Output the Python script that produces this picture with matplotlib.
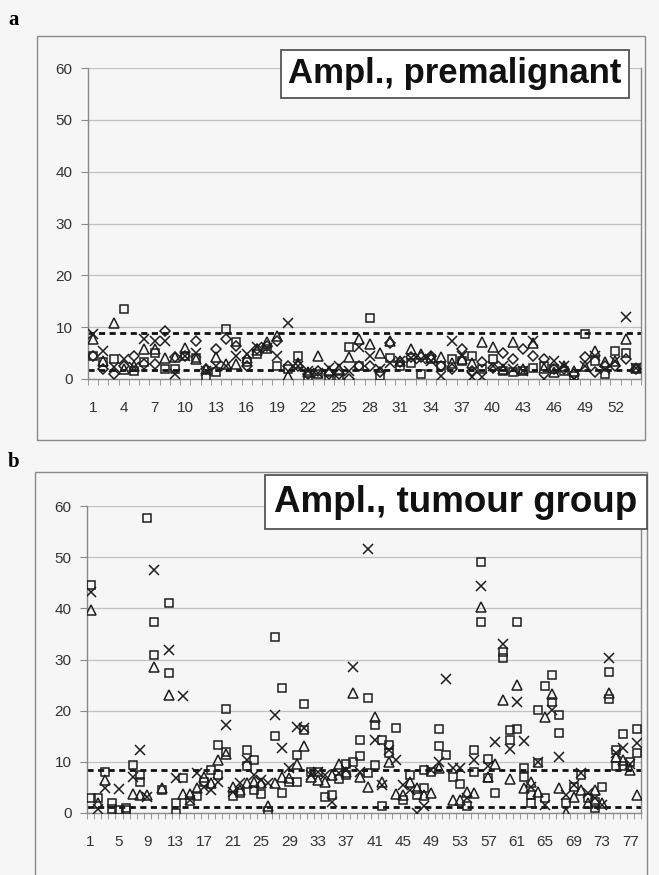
import numpy as np
import matplotlib.pyplot as plt
from matplotlib.patches import Rectangle

nan = np.nan

# ---------- panel a: premalignant (54 cases, 4 series) ----------
a_sq = [4.5, 3.2, 3.8, 13.5, 1.6, 3.2, 5.1, 1.9, 2.0, 4.5,
        4.0, 0.4, 1.3, 9.6, 7.1, 3.2, 4.8, 5.8, 2.6, 2.0,
        4.5, 0.0, 1.0, 0.0, 0.0, 6.1, 2.5, 11.7, 0.6, 4.0,
        2.5, 3.0, 1.0, 3.8, 2.6, 3.8, 3.5, 4.5, 2.0, 3.8,
        1.5, 1.3, 1.5, 2.2, 2.5, 2.0, 1.5, 0.5, 8.7, 3.5,
        1.0, 5.4, 5.1, 2.2]
a_tri = [7.7, 3.5, 10.8, 1.9, 2.6, 5.8, 5.8, 4.0, 4.2, 6.0,
         3.8, 1.9, 4.2, 2.9, 2.9, 4.0, 5.5, 7.1, 8.3, 0.6,
         3.0, 1.3, 4.5, 1.5, 1.9, 4.2, 7.7, 6.7, 5.1, 7.4,
         3.5, 5.8, 4.8, 4.2, 4.2, 3.0, 3.8, 3.0, 7.1, 6.1,
         2.0, 7.1, 2.0, 7.0, 2.2, 1.3, 2.6, 1.5, 2.5, 5.4,
         3.2, 3.5, 7.7, 2.2]
a_x = [8.7, 5.4, 2.3, 3.8, 2.3, 7.7, 7.4, 7.4, 1.0, 4.4,
       5.1, 1.6, 2.5, 2.6, 4.5, 4.8, 6.1, 6.0, 4.5, 10.9,
       2.5, 1.6, 1.2, 2.2, 2.6, 1.6, 6.1, 4.5, 2.0, 3.0,
       3.5, 4.0, 3.8, 3.5, 0.6, 7.4, 4.5, 0.4, 0.4, 2.5,
       2.5, 2.0, 1.5, 7.4, 0.0, 3.5, 2.6, 0.0, 2.6, 4.5,
       2.0, 3.5, 12.0, 2.2]
a_dia = [4.5, 1.9, 1.0, 2.6, 4.5, 2.9, 2.9, 9.3, 4.2, 4.5,
         7.4, 1.9, 5.8, 7.7, 6.4, 2.6, 5.8, 6.4, 7.4, 2.6,
         2.6, 1.0, 1.6, 1.0, 1.0, 0.0, 2.6, 2.6, 1.3, 7.0,
         3.2, 4.2, 4.2, 4.5, 2.6, 1.9, 5.8, 1.6, 3.2, 2.2,
         5.1, 3.8, 5.8, 4.5, 3.8, 1.9, 2.0, 1.0, 4.2, 1.3,
         2.6, 2.6, 3.8, 2.0]
a_limits = [8.8, 1.7]
a_xticks = list(range(1, 53, 3))

# ---------- panel b: tumour group (78 cases, 4 series) ----------
b_sq = [44.5, 2.9, 8.1, 1.9, 0.5, 0.5, 9.4, 7.4, 57.7, 37.4,
        4.5, 41.0, 0.0, 6.8, 2.3, 3.3, 6.0, 8.4, 13.3, 20.4,
        3.3, 4.0, 12.4, 10.4, 3.8, 0.3, 34.4, 24.4, 6.1, 11.3,
        21.4, 8.0, 8.0, 3.2, 3.5, 6.6, 9.6, 10.0, 14.3, 22.4,
        17.2, 14.3, 13.3, 16.6, 2.6, 7.4, 3.5, 8.4, 8.0, 16.5,
        11.3, 7.1, 5.7, 1.3, 12.3, 49.1, 10.5, 4.0, 31.5, 16.3,
        37.4, 8.7, 3.5, 20.2, 24.8, 26.9, 19.1, 1.9, 5.0, 7.4,
        3.0, 2.2, 5.0, 27.6, 12.3, 15.5, 10.0, 16.5]
b_sq2 = [2.9, nan, nan, 0.8, nan, 1.0, nan, 6.1, nan, 30.9,
         nan, 27.4, 2.0, nan, nan, nan, nan, nan, 7.4, 12.0,
         nan, nan, 9.1, 4.5, nan, nan, 15.0, 3.9, nan, 6.1,
         16.3, nan, nan, nan, nan, nan, 7.4, nan, 11.1, 7.8,
         9.4, 1.3, 11.7, nan, nan, nan, nan, 4.8, nan, 13.1,
         nan, nan, nan, nan, 8.1, 37.4, 6.8, nan, 30.2, 14.3,
         16.5, 7.1, 1.9, 9.8, 2.9, 21.7, 15.7, nan, nan, nan,
         nan, 0.9, nan, 22.2, 9.1, 9.1, nan, 11.8]
b_tri = [39.6, 2.0, 6.4, nan, nan, nan, 3.8, 3.5, 3.5, 28.6,
         4.9, 23.0, nan, 3.8, 3.8, 4.9, 7.0, 5.8, 10.4, 11.5,
         5.1, 4.5, 5.8, 6.1, 5.8, 1.3, 5.8, 7.0, 6.8, 9.6,
         13.1, 7.0, 6.5, 6.1, 7.5, 9.6, 8.0, 23.5, 7.0, 5.1,
         18.8, 6.0, 10.0, 3.8, 3.5, 6.1, 4.8, 3.5, 4.0, 8.7,
         nan, 2.6, 2.6, 4.2, 4.0, 40.3, 7.1, 9.6, 22.1, 6.6,
         25.0, 4.8, 6.0, 4.2, 18.8, 23.2, 4.8, 0.0, 3.2, 4.5,
         2.0, 4.5, 2.0, 23.4, 11.0, 10.4, 8.5, 3.5]
b_x = [43.2, 0.8, 4.9, nan, 4.6, nan, 7.1, 12.4, 3.2, 47.5,
       nan, 31.8, 6.8, 22.8, 2.6, 7.8, 5.0, 4.5, 6.1, 17.2,
       4.1, 5.8, 10.4, 7.4, 6.5, 5.8, 19.1, 12.8, 8.8, 16.9,
       16.6, 7.5, 8.0, 7.4, 2.2, 7.8, 8.5, 28.6, 8.1, 51.6,
       14.3, 5.4, 12.4, 10.4, 5.4, 4.5, 0.0, 1.3, 8.5, 10.0,
       26.1, 8.7, 8.7, 2.9, 10.4, 44.3, 9.1, 13.9, 33.1, 12.6,
       21.6, 14.1, 5.1, 10.0, 1.6, 20.1, 10.9, 3.5, 5.4, 7.8,
       4.0, 3.0, 1.5, 30.2, 11.7, 12.8, 9.5, 13.7]
b_limits = [8.5, 1.2]
b_xticks = list(range(1, 78, 4))

titles = ["Ampl., premalignant", "Ampl., tumour group"]
panel_labels = ["a", "b"]

plt.rcParams["font.family"] = ["Liberation Sans", "DejaVu Sans"]

W, H = 659, 875
fig = plt.figure(figsize=(W / 100, H / 100), dpi=100)
fig.patch.set_facecolor("#f6f6f6")


def fx(px):
    return px / W


def fy(py):
    return 1 - py / H


# outer chart frames (pixel coords: left, top, right, bottom)
for (l, t, r, b) in [(37, 36, 645, 440), (35, 472, 647, 890)]:
    fig.add_artist(Rectangle((fx(l), fy(b)), fx(r) - fx(l), fy(t) - fy(b),
                             transform=fig.transFigure, fill=False,
                             ec="#8a8a8a", lw=1.0))

ax_a = fig.add_axes([fx(88), fy(379), fx(641) - fx(88), fy(68) - fy(379)])
ax_b = fig.add_axes([fx(87), fy(813), fx(641) - fx(87), fy(506) - fy(813)])

mk = dict(ls="none", mfc="none", mec="#1e1e1e", mew=1.1)

panels = [
    (ax_a, [(a_sq, "s", 6.3), (a_tri, "^", 6.8), (a_x, "x", 6.8), (a_dia, "D", 5.2)],
     a_limits, a_xticks, len(a_sq)),
    (ax_b, [(b_sq, "s", 6), (b_sq2, "s", 6), (b_tri, "^", 6.5), (b_x, "x", 7)],
     b_limits, b_xticks, len(b_sq)),
]

for ax, series, limits, xt, n in panels:
    ax.set_facecolor("#f6f6f6")
    cats = np.arange(1, n + 1)
    for vals, m, s in series:
        ax.plot(cats, np.array(vals, dtype=float), marker=m, ms=s, **mk, zorder=3)
    for v in limits:
        ax.axhline(v, color="#111111", lw=2.0, ls=(0, (2.2, 1.6)), zorder=2)
    ax.set_xlim(0.5, n + 0.5)
    ax.set_ylim(0, 60)
    ax.set_yticks(range(0, 61, 10))
    ax.set_xticks(xt)
    ax.set_xticks(np.arange(0.5, n + 1), minor=True)
    ax.yaxis.grid(True, color="#c2c2c2", lw=0.9)
    ax.set_axisbelow(True)
    ax.spines["top"].set_visible(False)
    for side in ["left", "bottom", "right"]:
        ax.spines[side].set_color("#8a8a8a")
        ax.spines[side].set_linewidth(1.0)
    ax.tick_params(axis="y", length=5, color="#8a8a8a", labelsize=11,
                   labelcolor="#333333", pad=6)
    ax.tick_params(axis="x", which="major", length=0, labelsize=11,
                   labelcolor="#333333", pad=16)
    ax.tick_params(axis="x", which="minor", length=4, color="#8a8a8a")

# title boxes
fig.text(fx(455), fy(74), titles[0], fontsize=25, fontweight="bold",
         ha="center", va="center", color="#111111",
         bbox=dict(boxstyle="square,pad=0.22", fc="white", ec="#555555", lw=1.3))
fig.text(fx(456), fy(502), titles[1], fontsize=26.5, fontweight="bold",
         ha="center", va="center", color="#111111",
         bbox=dict(boxstyle="square,pad=0.25", fc="white", ec="#555555", lw=1.3))

# panel letters
for lab, (px, py) in zip(panel_labels, [(14, 20), (14, 462)]):
    fig.text(fx(px), fy(py), lab, fontsize=15, fontweight="bold",
             family=["Liberation Serif", "DejaVu Serif"], ha="center", va="center")

fig.savefig("out.png", dpi=100, facecolor=fig.get_facecolor())
